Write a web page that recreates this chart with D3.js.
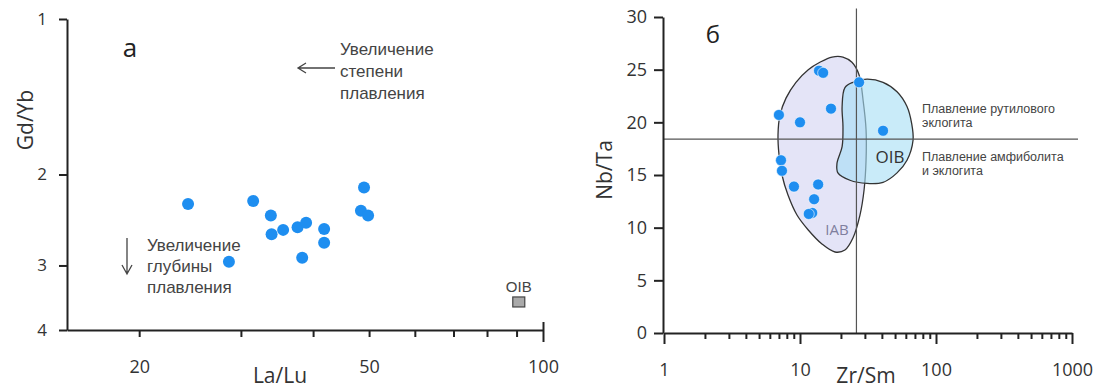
<!DOCTYPE html>
<html>
<head>
<meta charset="utf-8">
<script src="https://cdn.jsdelivr.net/npm/d3@7"></script>
<style>
  body { margin: 0; background: #fff; }
  svg text { font-family: "Open Sans", "Liberation Sans", sans-serif; }
  .ann { font-family: "Liberation Sans", Arial, sans-serif; fill: #444; }
</style>
</head>
<body>
<div id="chart"></div>
<script>
// ---- panel a : La/Lu vs Gd/Yb ----
var laLu = [24.3, 31.5, 33.8, 33.9, 35.5, 37.6, 38.9, 41.8, 41.8, 38.3, 28.6, 49.0, 48.4, 49.8];
var gdYb = [2.28, 2.25, 2.40, 2.61, 2.56, 2.53, 2.48, 2.55, 2.71, 2.90, 2.95, 2.12, 2.35, 2.40];
var oibLaLu = [90.8];
var oibGdYb = [3.53];
var laLuTicks = [20, 30, 40, 50, 60, 70, 80, 90, 100];
var laLuLabels = [20, 50, 100];
var gdYbTicks = [1, 2, 3, 4];

// ---- panel б : Zr/Sm vs Nb/Ta ----
var zrSm = [13.8, 14.8, 27.2, 16.9, 7.0, 10.0, 40.8, 7.25, 7.37, 9.03, 13.6, 12.7, 12.3, 11.6];
var nbTa = [24.9, 24.7, 23.8, 21.3, 20.7, 20.0, 19.2, 16.4, 15.4, 13.9, 14.1, 12.7, 11.4, 11.3];
var nbTaTicks = [0, 5, 10, 15, 20, 25, 30];
var zrSmLabels = [1, 10, 100, 1000];
// field outlines
var iabZr = [20.7, 17.2, 14.0, 11.5, 9.34, 7.89, 7.13, 6.89, 7.01, 7.37, 8.16, 9.5, 11.5, 14.5, 18.1, 21.4, 24.5, 27.6, 29.6, 30.6, 30.6, 29.1, 27.2, 24.1];
var iabNb = [26.2, 26.2, 25.7, 25.0, 23.8, 22.3, 20.7, 18.8, 16.9, 15.0, 13.1, 11.2, 9.78, 8.45, 7.69, 7.88, 9.02, 11.2, 13.6, 16.4, 19.3, 22.1, 24.5, 25.7];
var oibZr = [21.4, 20.4, 20.7, 20.4, 18.7, 19.0, 23.3, 31.1, 40.8, 51.7, 61.2, 67.8, 66.2, 61.2, 51.7, 40.8, 31.1, 24.5];
var oibNb = [23.3, 21.5, 19.6, 17.7, 16.1, 15.2, 14.5, 14.2, 14.3, 15.2, 16.4, 18.3, 19.9, 21.5, 22.9, 23.8, 24.1, 23.8];
var refZr = 26;     // vertical divider
var refNb = 18.4;   // horizontal divider

var pointColor = "#1e8ef0";

var svg = d3.select("#chart").append("svg").attr("width", 1095).attr("height", 392);

/////////////////////
// Panel a
/////////////////////
var xa = d3.scaleLog().domain([15, 100]).range([67, 543]);
var ya = d3.scaleLog().domain([1, 4]).range([19, 330]);

var gA = svg.append("g");

var axA = gA.append("g").attr("transform", "translate(0,330)")
  .call(d3.axisBottom(xa).tickValues(laLuTicks).tickSize(7).tickSizeOuter(0)
    .tickFormat(function(d) { return laLuLabels.indexOf(d) >= 0 ? d : ""; }));
axA.selectAll("text").attr("y", 30).style("font-size", "18px").attr("fill", "#333");
axA.selectAll(".tick line").filter(function(d) { return d == 100; }).attr("y1", -8).attr("y2", 12);

var ayA = gA.append("g").attr("transform", "translate(67,0)")
  .call(d3.axisLeft(ya).tickValues(gdYbTicks).tickSize(8).tickSizeOuter(0).tickFormat(d3.format("d")));
ayA.selectAll("text").attr("x", -20).style("font-size", "17px").attr("fill", "#333");

gA.selectAll(".domain, .tick line").attr("stroke", "#222").attr("stroke-width", 2);

// points
gA.selectAll("circle.pt").data(laLu).enter().append("circle").attr("class", "pt")
  .attr("cx", function(d) { return xa(d); })
  .attr("cy", function(d, i) { return ya(gdYb[i]); })
  .attr("r", 6).attr("fill", pointColor);

// OIB reference
gA.selectAll("rect.oib").data(oibLaLu).enter().append("rect").attr("class", "oib")
  .attr("x", function(d) { return xa(d) - 6; })
  .attr("y", function(d, i) { return ya(oibGdYb[i]) - 5; })
  .attr("width", 12).attr("height", 10)
  .attr("fill", "#aaa").attr("stroke", "#444").attr("stroke-width", 1.2);
gA.append("text").attr("x", xa(oibLaLu[0])).attr("y", ya(oibGdYb[0]) - 10)
  .attr("text-anchor", "middle").attr("class", "ann").style("font-size", "15px").text("OIB");

// labels
gA.append("text").attr("x", 130).attr("y", 57).attr("text-anchor", "middle")
  .style("font-size", "26px").attr("fill", "#222").text("а");
gA.append("text").attr("x", 280).attr("y", 383).attr("text-anchor", "middle")
  .style("font-size", "21px").attr("fill", "#333").text("La/Lu");
gA.append("text").attr("transform", "rotate(-90)").attr("x", -120).attr("y", 33)
  .attr("text-anchor", "middle").style("font-size", "21px").attr("fill", "#333").text("Gd/Yb");

// annotations
var ann1 = ["Увеличение", "степени", "плавления"];
gA.selectAll("text.a1").data(ann1).enter().append("text").attr("class", "ann a1")
  .attr("x", 340).attr("y", function(d, i) { return 55 + i * 22; })
  .style("font-size", "17px").text(function(d) { return d; });
gA.append("path").attr("d", "M335,68 H298 M306,63 L298,68 L306,73")
  .attr("stroke", "#444").attr("stroke-width", 1.3).attr("fill", "none");

var ann2 = ["Увеличение", "глубины", "плавления"];
gA.selectAll("text.a2").data(ann2).enter().append("text").attr("class", "ann a2")
  .attr("x", 147).attr("y", function(d, i) { return 251 + i * 21; })
  .style("font-size", "17px").text(function(d) { return d; });
gA.append("path").attr("d", "M127,238 V274 M122,265 L127,274 L132,265")
  .attr("stroke", "#444").attr("stroke-width", 1.3).attr("fill", "none");

/////////////////////
// Panel б
/////////////////////
var xb = d3.scaleLog().domain([1, 1000]).range([664, 1072]);
var yb = d3.scaleLinear().domain([0, 30]).range([333, 17]);

var gB = svg.append("g");

// fields
var fieldLine = d3.line().x(function(d) { return xb(d[0]); }).y(function(d) { return yb(d[1]); })
  .curve(d3.curveCatmullRomClosed.alpha(0.5));
gB.append("path").datum(d3.zip(iabZr, iabNb)).attr("d", fieldLine)
  .attr("fill", "#e4e4f7").attr("stroke", "#333").attr("stroke-width", 1.3);
gB.append("path").datum(d3.zip(oibZr, oibNb)).attr("d", fieldLine)
  .attr("fill", "rgb(165,222,245)").attr("fill-opacity", 0.6).attr("stroke", "#333").attr("stroke-width", 1.3);

// dividers
gB.append("line").attr("x1", xb(refZr)).attr("x2", xb(refZr)).attr("y1", yb(0)).attr("y2", yb(30.8))
  .attr("stroke", "#555").attr("stroke-width", 1.2);
gB.append("line").attr("x1", xb(1)).attr("x2", xb(1000) + 6).attr("y1", yb(refNb)).attr("y2", yb(refNb))
  .attr("stroke", "#555").attr("stroke-width", 1.2);

// axes
var minorTicks = [];
[1, 10, 100].forEach(function(p) { for (var k = 1; k < 10; k++) minorTicks.push(p * k); });
minorTicks.push(1000);
var axB = gB.append("g").attr("transform", "translate(0,333)")
  .call(d3.axisBottom(xb).tickValues(minorTicks).tickSize(6).tickSizeOuter(0)
    .tickFormat(function(d) { return zrSmLabels.indexOf(d) >= 0 ? d : ""; }));
axB.selectAll(".tick line").filter(function(d) { return zrSmLabels.indexOf(d) >= 0; }).attr("y2", 11);
axB.selectAll("text").attr("y", 30).style("font-size", "18px").attr("fill", "#333");

var ayB = gB.append("g").attr("transform", "translate(663,0)")
  .call(d3.axisLeft(yb).tickValues(nbTaTicks).tickSize(9).tickSizeOuter(0));
ayB.selectAll("text").attr("x", -16).style("font-size", "18px").attr("fill", "#333");
gB.selectAll(".domain, .tick line").attr("stroke", "#222").attr("stroke-width", 2);

// points
gB.selectAll("circle.pt").data(zrSm).enter().append("circle").attr("class", "pt")
  .attr("cx", function(d) { return xb(d); })
  .attr("cy", function(d, i) { return yb(nbTa[i]); })
  .attr("r", 5.5).attr("fill", pointColor).attr("stroke", "#fff").attr("stroke-width", 0.6);

// labels
gB.append("text").attr("x", 713).attr("y", 43).attr("text-anchor", "middle")
  .style("font-size", "24px").attr("fill", "#222").text("б");
gB.append("text").attr("x", 866).attr("y", 383).attr("text-anchor", "middle")
  .style("font-size", "21px").attr("fill", "#333").text("Zr/Sm");
gB.append("text").attr("transform", "rotate(-90)").attr("x", -170).attr("y", 612)
  .attr("text-anchor", "middle").style("font-size", "21px").attr("fill", "#333").text("Nb/Ta");
gB.append("text").attr("x", 837).attr("y", 235).attr("text-anchor", "middle")
  .style("font-size", "15px").attr("fill", "#7f7f9e").text("IAB");
gB.append("text").attr("x", 890).attr("y", 163).attr("text-anchor", "middle")
  .style("font-size", "17px").attr("fill", "#333").text("OIB");

var ann3 = ["Плавление рутилового", "эклогита"];
gB.selectAll("text.a3").data(ann3).enter().append("text").attr("class", "ann a3")
  .attr("x", 922).attr("y", function(d, i) { return 113 + i * 14; })
  .style("font-size", "12.5px").attr("fill", "#333").text(function(d) { return d; });
var ann4 = ["Плавление амфиболита", "и эклогита"];
gB.selectAll("text.a4").data(ann4).enter().append("text").attr("class", "ann a4")
  .attr("x", 922).attr("y", function(d, i) { return 161 + i * 14; })
  .style("font-size", "12.5px").attr("fill", "#333").text(function(d) { return d; });
</script>
</body>
</html>
